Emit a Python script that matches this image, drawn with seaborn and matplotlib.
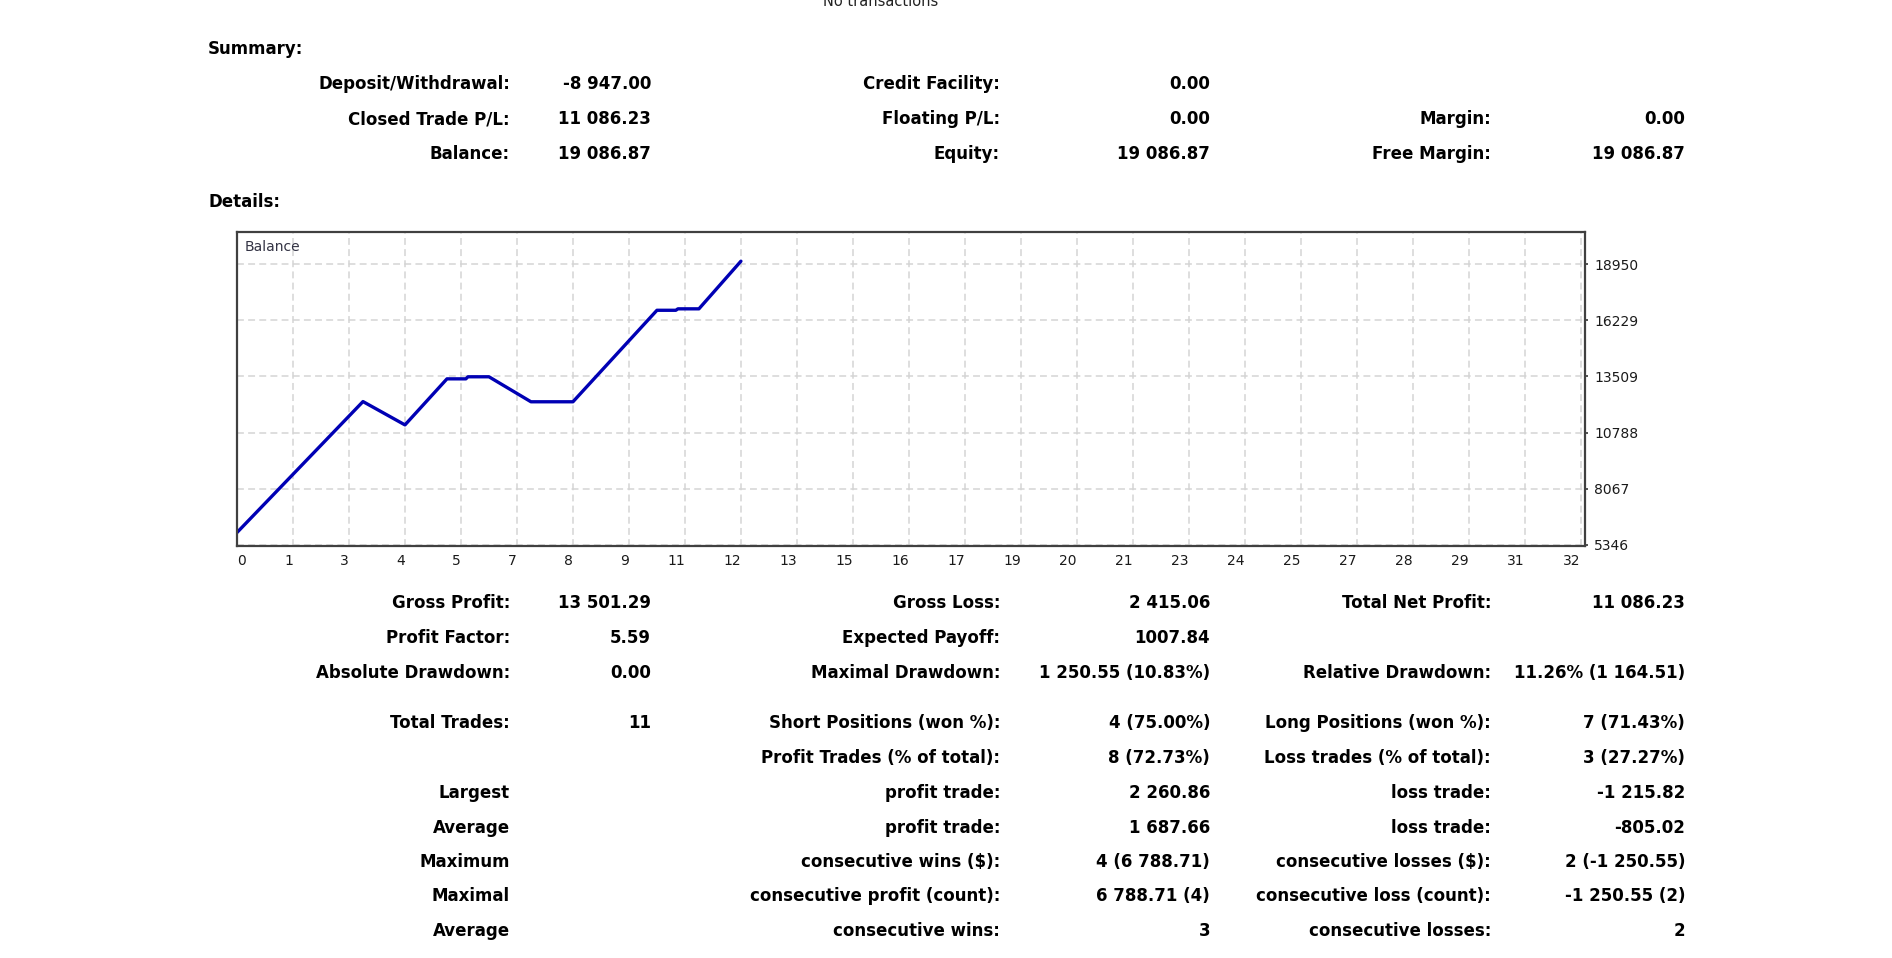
import numpy as np
import matplotlib
matplotlib.use("Agg")
import matplotlib.pyplot as plt
import seaborn as sns

# ==========================================================
# DATA
# ==========================================================

trade_x = [0, 3, 4, 5, 5.45, 5.5, 6, 7, 8, 10, 10.45, 10.5, 11, 12]
balance = [5950, 12290, 11160, 13390, 13390, 13490, 13490, 12280, 12280,
           16710, 16710, 16780, 16780, 19087]

x_tick_labels = [0, 1, 3, 4, 5, 7, 8, 9, 11, 12, 13, 15, 16, 17, 19, 20,
                 21, 23, 24, 25, 27, 28, 29, 31, 32]
y_ticks = [5346, 8067, 10788, 13509, 16229, 18950]

summary_rows = [
    ["Deposit/Withdrawal:", "-8 947.00", "Credit Facility:", "0.00", "", ""],
    ["Closed Trade P/L:", "11 086.23", "Floating P/L:", "0.00", "Margin:", "0.00"],
    ["Balance:", "19 086.87", "Equity:", "19 086.87", "Free Margin:", "19 086.87"],
]

detail_rows = [
    ["Gross Profit:", "13 501.29", "Gross Loss:", "2 415.06",
     "Total Net Profit:", "11 086.23"],
    ["Profit Factor:", "5.59", "Expected Payoff:", "1007.84", "", ""],
    ["Absolute Drawdown:", "0.00", "Maximal Drawdown:", "1 250.55 (10.83%)",
     "Relative Drawdown:", "11.26% (1 164.51)"],
    ["Total Trades:", "11", "Short Positions (won %):", "4 (75.00%)",
     "Long Positions (won %):", "7 (71.43%)"],
    ["", "", "Profit Trades (% of total):", "8 (72.73%)",
     "Loss trades (% of total):", "3 (27.27%)"],
    ["Largest", "", "profit trade:", "2 260.86", "loss trade:", "-1 215.82"],
    ["Average", "", "profit trade:", "1 687.66", "loss trade:", "-805.02"],
    ["Maximum", "", "consecutive wins ($):", "4 (6 788.71)",
     "consecutive losses ($):", "2 (-1 250.55)"],
    ["Maximal", "", "consecutive profit (count):", "6 788.71 (4)",
     "consecutive loss (count):", "-1 250.55 (2)"],
    ["Average", "", "consecutive wins:", "3", "consecutive losses:", "2"],
]

# ==========================================================
# LAYOUT
# ==========================================================

W, H = 1892, 958

sns.set_style("white")
plt.rcParams['font.family'] = ['DejaVu Sans']

fig = plt.figure(figsize=(W / 100, H / 100), dpi=100)
fig.patch.set_facecolor("white")


def put(x, y, s, ha="right", **kw):
    fig.text(x / W, 1 - y / H, s, ha=ha, va="baseline",
             fontsize=kw.pop("fontsize", 12), fontweight=kw.pop("fontweight", "bold"),
             color=kw.pop("color", "black"), **kw)


col_right = [510, 651, 1000, 1210, 1491, 1685]

# header line sits mostly above the page, as in the report
put(881, 6, "No transactions", ha="center", fontsize=10.5,
    fontweight="normal", color="#222222")

put(208, 54, "Summary:", ha="left")
for row, yc in zip(summary_rows, [83, 118, 153]):
    for s, xr in zip(row, col_right):
        if s:
            put(xr, yc + 6, s)

put(208, 207, "Details:", ha="left")
detail_y = [602, 637, 672, 722, 757, 792, 827, 861, 895, 930]
for row, yc in zip(detail_rows, detail_y):
    for s, xr in zip(row, col_right):
        if s:
            put(xr, yc + 6, s)

# ==========================================================
# BALANCE CHART
# ==========================================================

ax = fig.add_axes([237 / W, 1 - 546 / H, (1585 - 237) / W, (546 - 232) / H])

sns.lineplot(x=trade_x, y=balance, ax=ax, color="#0000b4",
             linewidth=2.4, sort=False)

ax.set_xlim(0, 32.1)
ax.set_ylim(5297, 20500)

ax.set_xticks(np.linspace(0, 32, len(x_tick_labels)))
ax.set_xticklabels([str(v) for v in x_tick_labels])
for i, lab in enumerate(ax.get_xticklabels()):
    lab.set_ha("left" if i == 0 else "right")

ax.yaxis.tick_right()
ax.set_yticks(y_ticks)
ax.set_yticklabels([str(v) for v in y_ticks])

ax.tick_params(axis="both", direction="out", length=2.5, width=1.2,
               colors="#333333", labelsize=10, labelcolor="#1a1a1a")
ax.tick_params(axis="x", pad=3)
ax.tick_params(axis="y", pad=4)

ax.grid(True, color="#d4d4d4", linewidth=1.1, linestyle=(0, (4.5, 2.8)))
ax.set_axisbelow(True)

for sp in ax.spines.values():
    sp.set_visible(True)
    sp.set_color("#404040")
    sp.set_linewidth(1.6)

ax.set_xlabel("")
ax.set_ylabel("")
ax.text(0.006, 0.975, "Balance", transform=ax.transAxes, ha="left", va="top",
        fontsize=10, color="#333344")

fig.savefig("out.png", dpi=100, facecolor="white")
